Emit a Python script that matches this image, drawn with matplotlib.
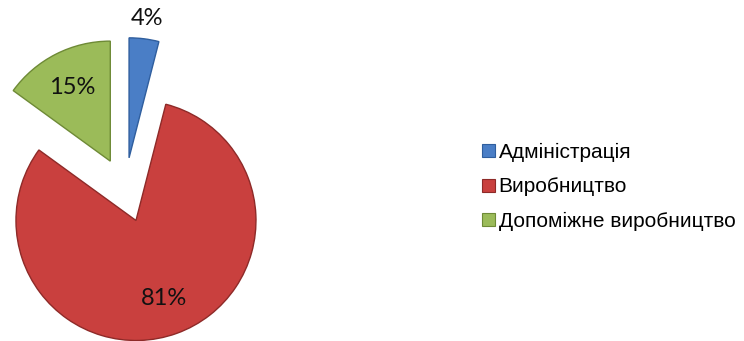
import matplotlib.pyplot as plt
import numpy as np

# частки персоналу за підрозділами, %
labels = ['Адміністрація', 'Виробництво', 'Допоміжне виробництво']
shares = [4, 81, 15]
colors = ['#4A7EC6', '#C9403E', '#9BBB59']
edges = ['#2F5E9E', '#8E2A28', '#6E8A36']

W, H = 744, 341
fig = plt.figure(figsize=(W / 100, H / 100), dpi=100)
ax = fig.add_axes([0, 0, 1, 1])

# 1 одиниця радіуса = 120 px, центр круга в (125, 190) px
r_px = 120.0
cx, cy = 125.0, 190.0

wedges, _, autotexts = ax.pie(
    shares, colors=colors, startangle=90, counterclock=False,
    explode=[0.27] * 3, radius=1.0, autopct='%1.0f%%', pctdistance=0.69,
    wedgeprops=dict(linewidth=1.0), frame=False,
    textprops=dict(fontsize=17, family=['Lato', 'DejaVu Sans'], color='#111111'))
ax.set_xlim(-cx / r_px, (W - cx) / r_px)
ax.set_ylim(-(H - cy) / r_px, cy / r_px)
ax.set_aspect('equal')
ax.axis('off')

for w, ec in zip(wedges, edges):
    w.set_edgecolor(ec)

# підпис маленького сектора виносимо за його межі
w0 = wedges[0]
ang = np.deg2rad((w0.theta1 + w0.theta2) / 2)
autotexts[0].set_position((w0.center[0] + 1.17 * np.cos(ang),
                           w0.center[1] + 1.17 * np.sin(ang)))

handles = [plt.Rectangle((0, 0), 1, 1, facecolor=c, edgecolor=e, linewidth=0.8)
           for c, e in zip(colors, edges)]
fig.legend(handles, labels, loc='center left', bbox_to_anchor=(482 / W, 1 - 187 / H),
           frameon=False, handlelength=0.6, handleheight=0.6, handletextpad=0.2,
           labelspacing=0.75, borderpad=0, borderaxespad=0,
           prop=dict(family=['Liberation Sans', 'DejaVu Sans'], size=15))

fig.savefig('out.png', dpi=100)
